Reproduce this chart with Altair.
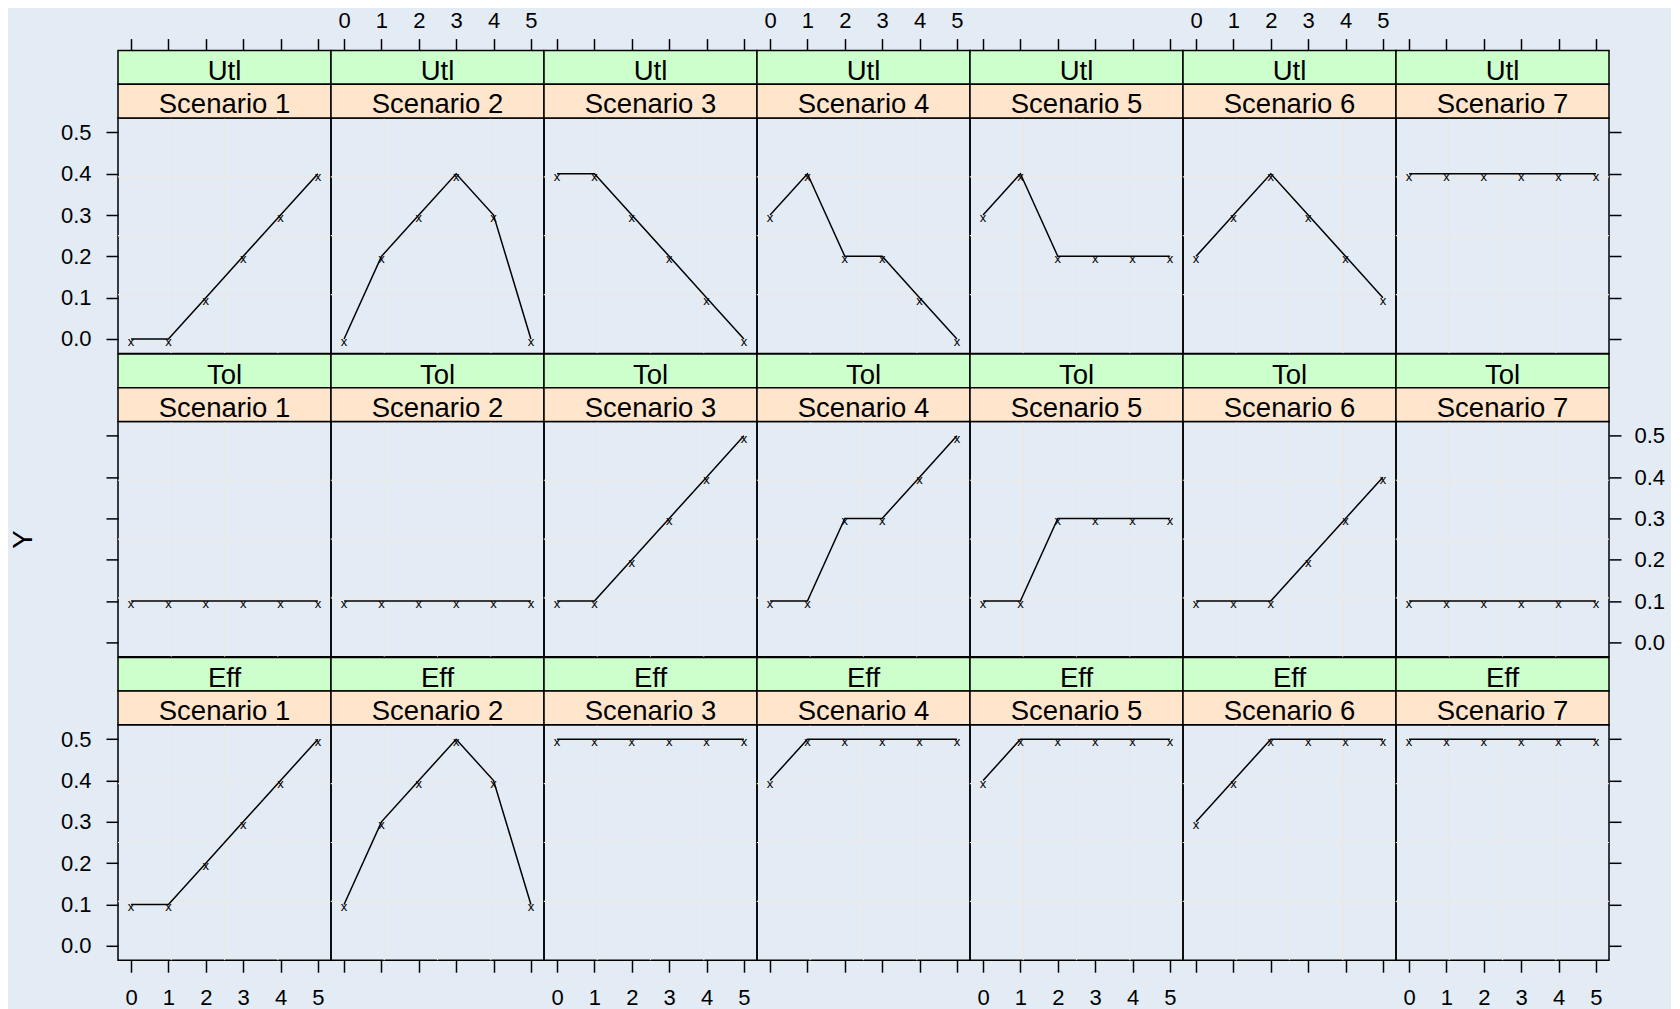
import altair as alt
import pandas as pd

# ---------------- data ----------------
measures = ["Utl", "Tol", "Eff"]
scenarios = ["Scenario 1", "Scenario 2", "Scenario 3", "Scenario 4",
             "Scenario 5", "Scenario 6", "Scenario 7"]
x_values = [0, 1, 2, 3, 4, 5]

utl_values = [
    [0.0, 0.0, 0.1, 0.2, 0.3, 0.4],
    [0.0, 0.2, 0.3, 0.4, 0.3, 0.0],
    [0.4, 0.4, 0.3, 0.2, 0.1, 0.0],
    [0.3, 0.4, 0.2, 0.2, 0.1, 0.0],
    [0.3, 0.4, 0.2, 0.2, 0.2, 0.2],
    [0.2, 0.3, 0.4, 0.3, 0.2, 0.1],
    [0.4, 0.4, 0.4, 0.4, 0.4, 0.4],
]
tol_values = [
    [0.1, 0.1, 0.1, 0.1, 0.1, 0.1],
    [0.1, 0.1, 0.1, 0.1, 0.1, 0.1],
    [0.1, 0.1, 0.2, 0.3, 0.4, 0.5],
    [0.1, 0.1, 0.3, 0.3, 0.4, 0.5],
    [0.1, 0.1, 0.3, 0.3, 0.3, 0.3],
    [0.1, 0.1, 0.1, 0.2, 0.3, 0.4],
    [0.1, 0.1, 0.1, 0.1, 0.1, 0.1],
]
eff_values = [
    [0.1, 0.1, 0.2, 0.3, 0.4, 0.5],
    [0.1, 0.3, 0.4, 0.5, 0.4, 0.1],
    [0.5, 0.5, 0.5, 0.5, 0.5, 0.5],
    [0.4, 0.5, 0.5, 0.5, 0.5, 0.5],
    [0.4, 0.5, 0.5, 0.5, 0.5, 0.5],
    [0.3, 0.4, 0.5, 0.5, 0.5, 0.5],
    [0.5, 0.5, 0.5, 0.5, 0.5, 0.5],
]
x_ticks = [0, 1, 2, 3, 4, 5]
y_ticks = [0.0, 0.1, 0.2, 0.3, 0.4, 0.5]
y_title = "Y"

series = {"Utl": utl_values, "Tol": tol_values, "Eff": eff_values}

# ---------------- style ----------------
W, H, STRIP = 213.0, 235.4, 33.7
X_DOMAIN = [-0.35, 5.35]
Y_DOMAIN = [-0.035, 0.535]
BG = "#e3ebf5"
GRID = "#ebe8e4"
GREEN = "#ccffcc"
PEACH = "#ffe5cc"
FONT = "Liberation Sans"
TICK_FS = 22
STRIP_FS = 27.5

x_grid = [X_DOMAIN[0] + k * (X_DOMAIN[1] - X_DOMAIN[0]) / 4 for k in (1, 2, 3)]
y_grid = [Y_DOMAIN[0] + k * (Y_DOMAIN[1] - Y_DOMAIN[0]) / 4 for k in (1, 2, 3)]


def axis(orient, values, labels, fmt, label_padding, offset=0, title=None, title_padding=0):
    kw = dict(orient=orient, values=values, labels=labels, format=fmt,
              domain=False, grid=False, ticks=True, tickSize=12, tickWidth=1.5,
              tickColor="black", labelFont=FONT, labelFontSize=TICK_FS,
              labelColor="black", labelFlush=False, labelOverlap=False,
              labelPadding=label_padding, offset=offset)
    if title:
        kw.update(title=title, titleFont=FONT, titleFontSize=STRIP_FS,
                  titleFontWeight="normal", titleColor="black",
                  titlePadding=title_padding)
    else:
        kw.update(title=None)
    return alt.Axis(**kw)


def panel(r, c):
    m = measures[r]
    s = scenarios[c]
    df = pd.DataFrame({"xv": x_values, "yv": series[m][c]})
    xs = alt.Scale(domain=X_DOMAIN, nice=False, zero=False)
    ys = alt.Scale(domain=Y_DOMAIN, nice=False, zero=False)

    if r == 0:
        x_axis = axis("top", x_ticks, c % 2 == 1, "d", 6, offset=2 * STRIP)
    elif r == 2:
        x_axis = axis("bottom", x_ticks, c % 2 == 0, "d", 15)
    else:
        x_axis = None

    if c == 0:
        if r == 1:
            left_axis = axis("left", y_ticks, False, ".1f", 15, title=y_title, title_padding=68)
        else:
            left_axis = axis("left", y_ticks, True, ".1f", 15)
    else:
        left_axis = None
    right_axis = axis("right", y_ticks, r == 1, ".1f", 13) if c == 6 else None

    grid_v = alt.Chart(pd.DataFrame({"g": x_grid})).mark_rule(
        color=GRID, strokeWidth=1.2).encode(
        x=alt.X("g:Q", scale=xs, axis=None), y=alt.value(0), y2=alt.value(H))
    grid_h = alt.Chart(pd.DataFrame({"g": y_grid})).mark_rule(
        color=GRID, strokeWidth=1.2).encode(
        y=alt.Y("g:Q", scale=ys, axis=None), x=alt.value(0), x2=alt.value(W))

    line = alt.Chart(df).mark_line(color="black", strokeWidth=1.5).encode(
        x=alt.X("xv:Q", scale=xs, axis=x_axis),
        y=alt.Y("yv:Q", scale=ys, axis=left_axis))
    pts = alt.Chart(df).mark_text(text="x", font=FONT, fontSize=13, color="black",
                                  baseline="alphabetic", dy=7).encode(
        x=alt.X("xv:Q", scale=xs, axis=None),
        y=alt.Y("yv:Q", scale=ys, axis=right_axis))

    sdf = pd.DataFrame({"measure": [m], "scenario": [s]})
    strip1 = alt.Chart(sdf).mark_rect(fill=GREEN, stroke="black", strokeWidth=1.5).encode(
        x=alt.value(0), x2=alt.value(W), y=alt.value(-2 * STRIP), y2=alt.value(-STRIP))
    strip2 = alt.Chart(sdf).mark_rect(fill=PEACH, stroke="black", strokeWidth=1.5).encode(
        x=alt.value(0), x2=alt.value(W), y=alt.value(-STRIP), y2=alt.value(0))
    text1 = alt.Chart(sdf).mark_text(font=FONT, fontSize=STRIP_FS, color="black",
                                     baseline="middle", dy=5).encode(
        text="measure:N", x=alt.value(W / 2), y=alt.value(-1.5 * STRIP))
    text2 = alt.Chart(sdf).mark_text(font=FONT, fontSize=STRIP_FS, color="black",
                                     baseline="middle", dy=4).encode(
        text="scenario:N", x=alt.value(W / 2), y=alt.value(-0.5 * STRIP))

    return alt.layer(grid_v, grid_h, line, pts, strip1, strip2, text1, text2).resolve_axis(
        x="independent", y="independent").properties(width=W, height=H)


panels = [panel(r, c) for r in range(3) for c in range(7)]

chart = alt.concat(*panels, columns=7, spacing={"row": 2 * STRIP, "column": 0},
                   bounds="flush").properties(
    background=BG, padding={"left": 0, "top": 0, "right": 5, "bottom": 0}
).configure_view(stroke="black", strokeWidth=1.5)

chart.save("out.html", embed_options={"renderer": "svg", "actions": False})
